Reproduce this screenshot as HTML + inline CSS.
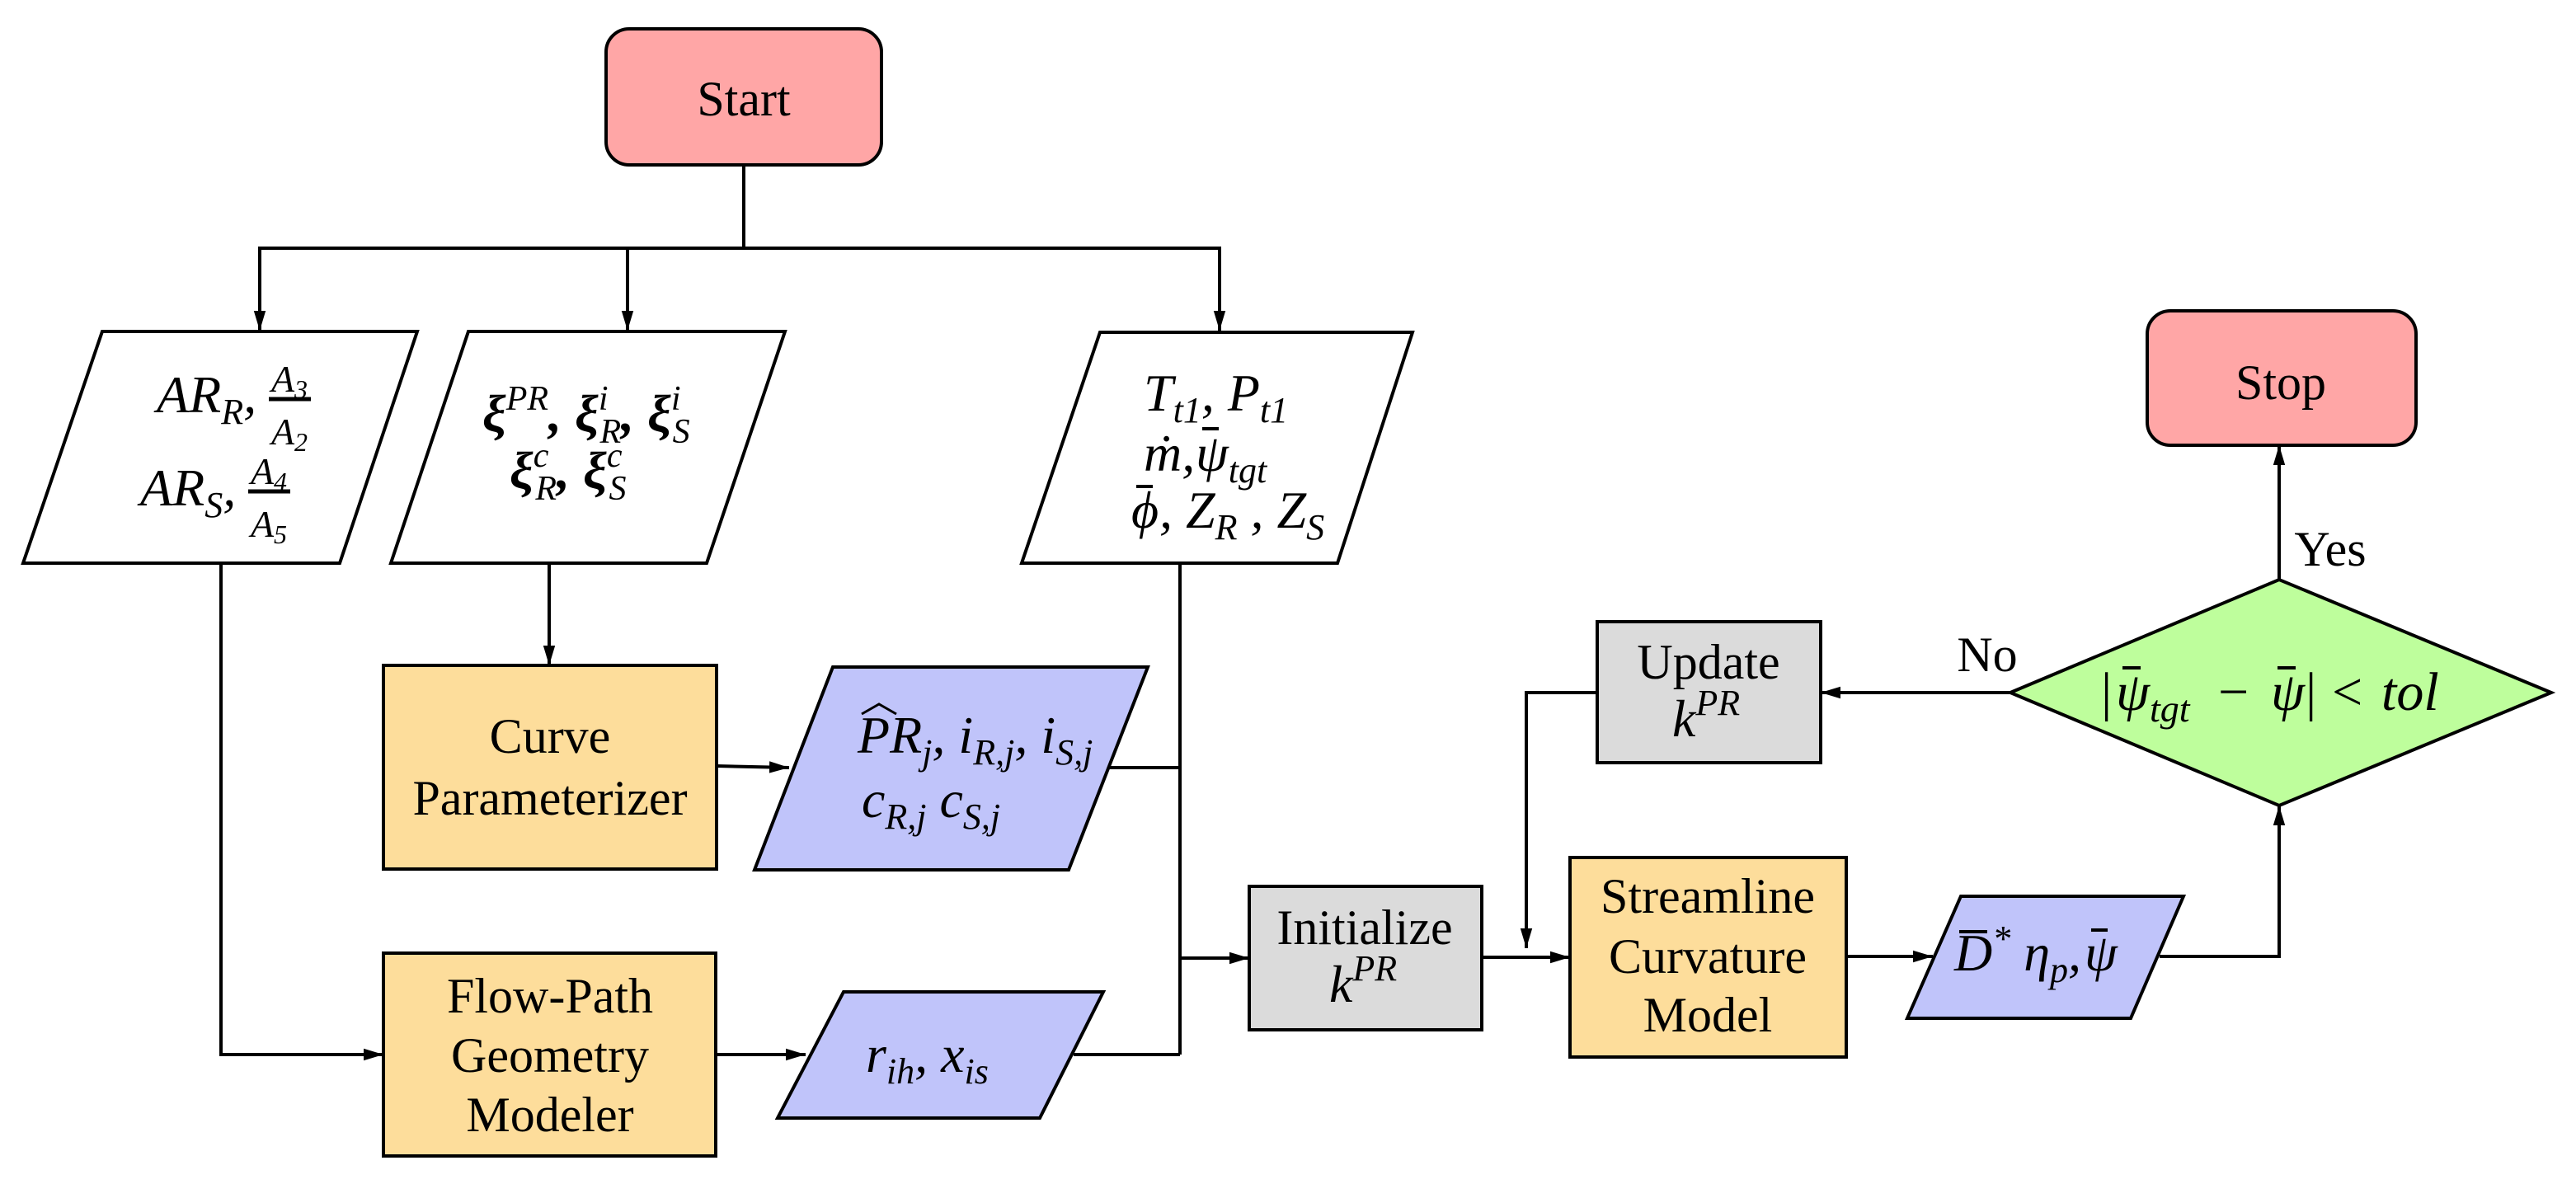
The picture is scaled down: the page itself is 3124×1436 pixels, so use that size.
<!DOCTYPE html>
<html><head><meta charset="utf-8"><style>
html,body{margin:0;padding:0;background:#fff;}
svg{display:block;}
</style></head><body>
<svg width="3124" height="1436" viewBox="0 0 3124 1436" xmlns="http://www.w3.org/2000/svg">
<defs>
<marker id="b" viewBox="0 0 10 10" refX="10" refY="5" markerWidth="24" markerHeight="24" orient="auto" markerUnits="userSpaceOnUse"><path d="M0,2 L10,5 L0,8 z" fill="#000"/></marker>
</defs>
<g stroke="#000" stroke-width="4" fill="none">
<line x1="902" y1="200" x2="902" y2="301"/>
<polyline points="315,401 315,301 1479,301 1479,401" marker-end="url(#b)"/>
<line x1="315" y1="301" x2="315" y2="401" marker-end="url(#b)"/>
<line x1="761" y1="301" x2="761" y2="401" marker-end="url(#b)"/>
<polyline points="268,683 268,1279 465,1279" marker-end="url(#b)"/>
<line x1="666" y1="683" x2="666" y2="807" marker-end="url(#b)"/>
<line x1="1431" y1="683" x2="1431" y2="1279"/>
<line x1="869" y1="929" x2="957" y2="931" marker-end="url(#b)"/>
<line x1="1344" y1="931" x2="1431" y2="931"/>
<line x1="868" y1="1279" x2="977" y2="1279" marker-end="url(#b)"/>
<line x1="1302" y1="1279" x2="1431" y2="1279"/>
<line x1="1431" y1="1162" x2="1515" y2="1162" marker-end="url(#b)"/>
<line x1="1797" y1="1161" x2="1904" y2="1161" marker-end="url(#b)"/>
<polyline points="1937,840 1851,840 1851,1150" marker-end="url(#b)"/>
<line x1="2438" y1="840" x2="2208" y2="840" marker-end="url(#b)"/>
<line x1="2764" y1="703" x2="2764" y2="540" marker-end="url(#b)"/>
<line x1="2239" y1="1160" x2="2344" y2="1160" marker-end="url(#b)"/>
<polyline points="2619,1160 2764,1160 2764,977" marker-end="url(#b)"/>
</g>
<g stroke="#000" stroke-width="4">
<rect x="735" y="35" width="334" height="165" rx="28" fill="#FFA6A6"/>
<rect x="2604" y="377" width="326" height="163" rx="28" fill="#FFA6A6"/>
<polygon points="124,402 506,402 412,683 28,683" fill="#fff"/>
<polygon points="568,402 952,402 857,683 474,683" fill="#fff"/>
<polygon points="1334,403 1713,403 1622,683 1239,683" fill="#fff"/>
<rect x="465" y="807" width="404" height="247" fill="#FDDD9B"/>
<rect x="465" y="1156" width="403" height="246" fill="#FDDD9B"/>
<rect x="1904" y="1040" width="335" height="242" fill="#FDDD9B"/>
<polygon points="1010,809 1392,809 1296,1055 915,1055" fill="#C0C4FA"/>
<polygon points="1023,1203 1338,1203 1261,1356 943,1356" fill="#C0C4FA"/>
<polygon points="2378,1087 2648,1087 2584,1235 2313,1235" fill="#C0C4FA"/>
<rect x="1515" y="1075" width="282" height="174" fill="#DBDBDB"/>
<rect x="1937" y="754" width="271" height="171" fill="#DBDBDB"/>
<polygon points="2438,840 2764,703 3094,840 2764,977" fill="#BEFE9C"/>
</g>
<g style="font-family:'Liberation Serif','Noto Serif CJK SC','DejaVu Serif',serif" font-size="60" fill="#000" text-anchor="middle">
<text x="902" y="140">Start</text>
<text x="2766" y="484">Stop</text>
<text x="667" y="913">Curve</text>
<text x="667" y="988">Parameterizer</text>
<text x="667" y="1228">Flow-Path</text>
<text x="667" y="1300">Geometry</text>
<text x="667" y="1372">Modeler</text>
<text x="1655" y="1145">Initialize</text>
<text x="2071" y="1107">Streamline</text>
<text x="2071" y="1180">Curvature</text>
<text x="2071" y="1251">Model</text>
<text x="2072" y="823">Update</text>
<text x="2826" y="686">Yes</text>
<text x="2410" y="814">No</text>
</g>
<g style="font-family:'Liberation Serif','Noto Serif CJK SC','DejaVu Serif',serif;font-style:italic" font-size="64" fill="#000">
<text x="190" y="500">AR<tspan font-size="44" dy="14">R</tspan><tspan dy="-14">,</tspan></text>
<text x="351" y="475" font-size="46" text-anchor="middle">A<tspan font-size="32" dy="8">3</tspan></text>
<line x1="326" y1="484" x2="377" y2="484" stroke="#000" stroke-width="5"/>
<text x="351" y="539" font-size="46" text-anchor="middle">A<tspan font-size="32" dy="8">2</tspan></text>
<text x="170" y="613">AR<tspan font-size="44" dy="14">S</tspan><tspan dy="-14">,</tspan></text>
<text x="326" y="587" font-size="46" text-anchor="middle">A<tspan font-size="32" dy="8">4</tspan></text>
<line x1="301" y1="596" x2="352" y2="596" stroke="#000" stroke-width="5"/>
<text x="326" y="651" font-size="46" text-anchor="middle">A<tspan font-size="32" dy="8">5</tspan></text>

<text x="585" y="523" font-weight="bold">ξ<tspan font-size="42" dy="-26" font-weight="normal">PR</tspan><tspan dy="26">, ξ</tspan><tspan font-size="42" dy="-26" font-weight="normal">i</tspan><tspan font-size="42" dx="-10" dy="40" font-weight="normal">R</tspan><tspan dy="-14">, ξ</tspan><tspan font-size="42" dy="-26" font-weight="normal">i</tspan><tspan font-size="42" dx="-10" dy="40" font-weight="normal">S</tspan></text>
<text x="618" y="592" font-weight="bold">ξ<tspan font-size="42" dy="-26" font-weight="normal">c</tspan><tspan font-size="42" dx="-16" dy="40" font-weight="normal">R</tspan><tspan dy="-14">, ξ</tspan><tspan font-size="42" dy="-26" font-weight="normal">c</tspan><tspan font-size="42" dx="-16" dy="40" font-weight="normal">S</tspan></text>

<text x="1387" y="498">T<tspan font-size="44" dy="14">t1</tspan><tspan dy="-14">, P</tspan><tspan font-size="44" dy="14">t1</tspan></text>
<text x="1387" y="571">ṁ,</text>
<text x="1450" y="571">ψ<tspan font-size="44" dy="14">tgt</tspan></text>
<line x1="1458" y1="520" x2="1478" y2="520" stroke="#000" stroke-width="4"/>
<text x="1372" y="640">ϕ</text>
<line x1="1378" y1="590" x2="1398" y2="590" stroke="#000" stroke-width="4"/>
<text x="1406" y="640">, Z<tspan font-size="44" dy="14">R</tspan><tspan dy="-14"> , Z</tspan><tspan font-size="44" dy="14">S</tspan></text>

<text x="1040" y="913">PR<tspan font-size="44" dy="14">j</tspan><tspan dy="-14">, i</tspan><tspan font-size="44" dy="14">R,j</tspan><tspan dy="-14">, i</tspan><tspan font-size="44" dy="14">S,j</tspan></text>
<path d="M1045,866 L1066,854 L1087,866" stroke="#000" stroke-width="3" fill="none"/>
<text x="1045" y="991">c<tspan font-size="44" dy="14">R,j</tspan><tspan dy="-14"> c</tspan><tspan font-size="44" dy="14">S,j</tspan></text>
<text x="1050" y="1300">r<tspan font-size="44" dy="14">ih</tspan><tspan dy="-14">, x</tspan><tspan font-size="44" dy="14">is</tspan></text>

<text x="1612" y="1215">k<tspan font-size="44" dy="-26">PR</tspan></text>
<text x="2028" y="893">k<tspan font-size="44" dy="-26">PR</tspan></text>
<text x="2370" y="1177">D<tspan font-size="44" dy="-24">*</tspan><tspan dy="24"> η</tspan><tspan font-size="44" dy="14">p</tspan><tspan dy="-14">,</tspan></text>
<line x1="2376" y1="1130" x2="2410" y2="1130" stroke="#000" stroke-width="4"/>
<text x="2528" y="1177">ψ</text>
<line x1="2536" y1="1128" x2="2556" y2="1128" stroke="#000" stroke-width="4"/>

<text x="2548" y="861" font-size="66" style="font-style:normal">|</text>
<text x="2566" y="861" font-size="66">ψ<tspan font-size="46" dy="14">tgt</tspan></text>
<line x1="2574" y1="810" x2="2596" y2="810" stroke="#000" stroke-width="4"/>
<text x="2690" y="861" font-size="66" style="font-style:normal">−</text>
<text x="2754" y="861" font-size="66">ψ</text>
<line x1="2762" y1="810" x2="2784" y2="810" stroke="#000" stroke-width="4"/>
<text x="2796" y="861" font-size="66" style="font-style:normal">|</text>
<text x="2828" y="861" font-size="66" style="font-style:normal">&lt;</text>
<text x="2888" y="861" font-size="66">tol</text>
</g>
</svg>
</body></html>
